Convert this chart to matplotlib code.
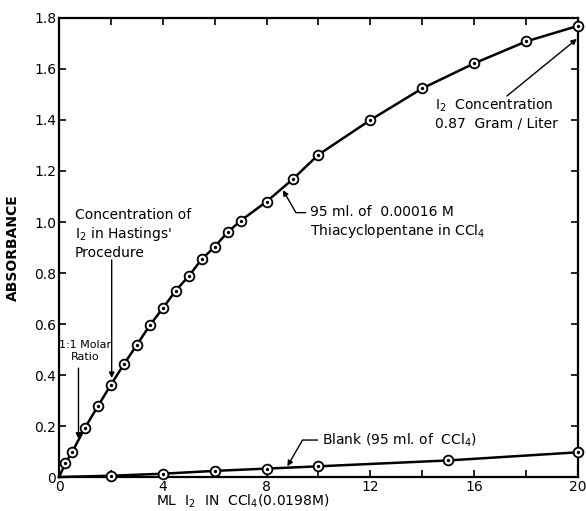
import matplotlib
matplotlib.use("Agg")
import matplotlib.pyplot as plt
from matplotlib.ticker import MultipleLocator, FuncFormatter

# Absorbance of thiacyclopentane + iodine vs. added iodine solution
ml_i2 = [0, 0.25, 0.5, 1, 1.5, 2, 2.5, 3, 3.5, 4, 4.5, 5, 5.5, 6, 6.5, 7,
         8, 9, 10, 12, 14, 16, 18, 20]
absorbance = [0, 0.054, 0.097, 0.193, 0.278, 0.362, 0.442, 0.518, 0.595,
              0.662, 0.731, 0.788, 0.854, 0.903, 0.960, 1.005, 1.080, 1.167,
              1.264, 1.400, 1.524, 1.622, 1.708, 1.769]

# Blank: iodine in CCl4 only
blank_ml = [0, 2, 4, 6, 8, 10, 15, 20]
blank_abs = [0, 0.005, 0.013, 0.024, 0.033, 0.042, 0.065, 0.097]

x_ticks = [0, 4, 8, 12, 16, 20]
y_ticks = [0, 0.2, 0.4, 0.6, 0.8, 1.0, 1.2, 1.4, 1.6, 1.8]

FS = 10

fig = plt.figure(figsize=(5.86, 5.11), dpi=100)
ax = fig.add_axes([0.1007, 0.0665, 0.8856, 0.8983])


def draw_series(x, y):
    ax.plot(x, y, color="black", lw=1.8, zorder=2, clip_on=False)
    ax.plot(x[1:], y[1:], ls="none", marker="o", ms=7, mfc="white",
            mec="black", mew=1.3, zorder=3, clip_on=False)
    ax.plot(x[1:], y[1:], ls="none", marker="o", ms=1.4, mfc="black",
            mec="black", zorder=4, clip_on=False)


draw_series(ml_i2, absorbance)
draw_series(blank_ml, blank_abs)

ax.set_xlim(0, 20)
ax.set_ylim(0, 1.8)
ax.set_xticks(x_ticks)
ax.xaxis.set_minor_locator(MultipleLocator(2))
ax.set_yticks(y_ticks)
ax.yaxis.set_major_formatter(FuncFormatter(lambda v, p: "0" if v == 0 else f"{v:.1f}"))
ax.xaxis.set_major_formatter(FuncFormatter(lambda v, p: f"{v:.0f}"))

ax.tick_params(which="both", direction="in", top=True, right=True,
               length=5, width=1.2, labelsize=FS)
ax.tick_params(axis="x", pad=2)
ax.tick_params(axis="y", pad=2)
for s in ax.spines.values():
    s.set_linewidth(1.6)

ax.set_ylabel("ABSORBANCE", fontsize=FS, fontweight="bold", labelpad=10)
ax.set_xlabel(r"ML  I$_2$  IN  CCl$_4$(0.0198M)", fontsize=FS, x=0.354,
              labelpad=-1)

arrow = dict(arrowstyle="-|>", color="black", lw=1.0, mutation_scale=8,
             shrinkA=0, shrinkB=0)

# Hastings' procedure marker
ax.text(0.62, 0.953, "Concentration of\nI$_2$ in Hastings'\nProcedure",
        fontsize=FS, ha="left", va="center", linespacing=1.25)
ax.annotate("", xy=(2.03, 0.388), xytext=(2.03, 0.851), arrowprops=arrow)

# 1:1 molar ratio marker
ax.text(1.02, 0.494, "1:1 Molar\nRatio", fontsize=8, ha="center",
        va="center", linespacing=1.2)
ax.annotate("", xy=(0.75, 0.15), xytext=(0.75, 0.427), arrowprops=arrow)

# Curve labels with leader lines
ax.annotate("95 ml. of  0.00016 M\nThiacyclopentane in CCl$_4$",
            xy=(8.63, 1.125), xytext=(9.67, 0.998), fontsize=FS,
            ha="left", va="center", linespacing=1.25,
            arrowprops=dict(arrow, connectionstyle="angle,angleA=0,angleB=120,rad=0",
                            relpos=(0, 0.78), shrinkA=1))
ax.annotate("Blank (95 ml. of  CCl$_4$)",
            xy=(8.80, 0.042), xytext=(10.12, 0.145), fontsize=FS,
            ha="left", va="center",
            arrowprops=dict(arrow, connectionstyle="angle,angleA=0,angleB=60,rad=0",
                            relpos=(0, 0.5), shrinkA=1))

ax.text(14.49, 1.424, "I$_2$  Concentration\n0.87  Gram / Liter", fontsize=FS,
        ha="left", va="center", linespacing=1.25)
ax.annotate("", xy=(19.96, 1.718), xytext=(17.26, 1.494), arrowprops=arrow)

fig.savefig("out.png", dpi=100)
